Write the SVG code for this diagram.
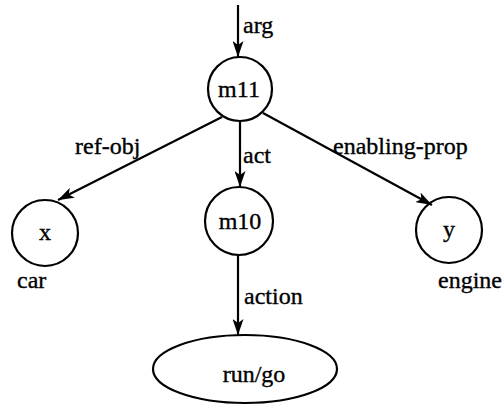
<svg xmlns="http://www.w3.org/2000/svg" width="504" height="407" viewBox="0 0 504 407" font-family="'Liberation Serif', 'Times New Roman', serif">
<defs>
<style>
.n{fill:none;stroke:#000;stroke-width:2.2}
.e{fill:none;stroke:#000;stroke-width:2.2}
text{font-family:'Liberation Serif','Times New Roman',serif;font-size:24px;fill:#000;stroke:#000;stroke-width:0.35}
.c{text-anchor:middle}
</style>
<marker id="ah" viewBox="0 0 16 11" refX="16" refY="5.5" markerWidth="16" markerHeight="11" markerUnits="userSpaceOnUse" orient="auto">
<path d="M0,0 L16,5.5 L0,11 L4,5.5 Z" fill="#000"/>
</marker>
</defs>
<rect width="504" height="407" fill="#fff"/>
<g id="connectors">
<line class="e" x1="238" y1="5" x2="238" y2="57" marker-end="url(#ah)"/>
<line class="e" x1="222" y1="117" x2="58" y2="200" marker-end="url(#ah)"/>
<line class="e" x1="240" y1="121" x2="240" y2="187" marker-end="url(#ah)"/>
<line class="e" x1="263" y1="113" x2="432" y2="205" marker-end="url(#ah)"/>
<line class="e" x1="238" y1="255" x2="238" y2="335" marker-end="url(#ah)"/>
<text x="243" y="33">arg</text>
<text x="75" y="154">ref-obj</text>
<text x="243" y="163">act</text>
<text x="333" y="154">enabling-prop</text>
<text x="244" y="304">action</text>
</g>
<g id="m11">
<circle class="n" cx="240" cy="89" r="32"/>
<text class="c" x="239" y="97">m11</text>
</g>
<g id="x">
<circle class="n" cx="45" cy="233" r="33"/>
<text class="c" x="45" y="240">x</text>
<text x="17" y="288">car</text>
</g>
<g id="m10">
<circle class="n" cx="239" cy="221" r="34"/>
<text class="c" x="240" y="229">m10</text>
</g>
<g id="y">
<circle class="n" cx="449" cy="230" r="33"/>
<text class="c" x="449" y="237">y</text>
<text x="438" y="288">engine</text>
</g>
<g id="rungo">
<ellipse class="n" cx="245" cy="369" rx="92" ry="34"/>
<text class="c" x="254" y="382">run/go</text>
</g>
</svg>
